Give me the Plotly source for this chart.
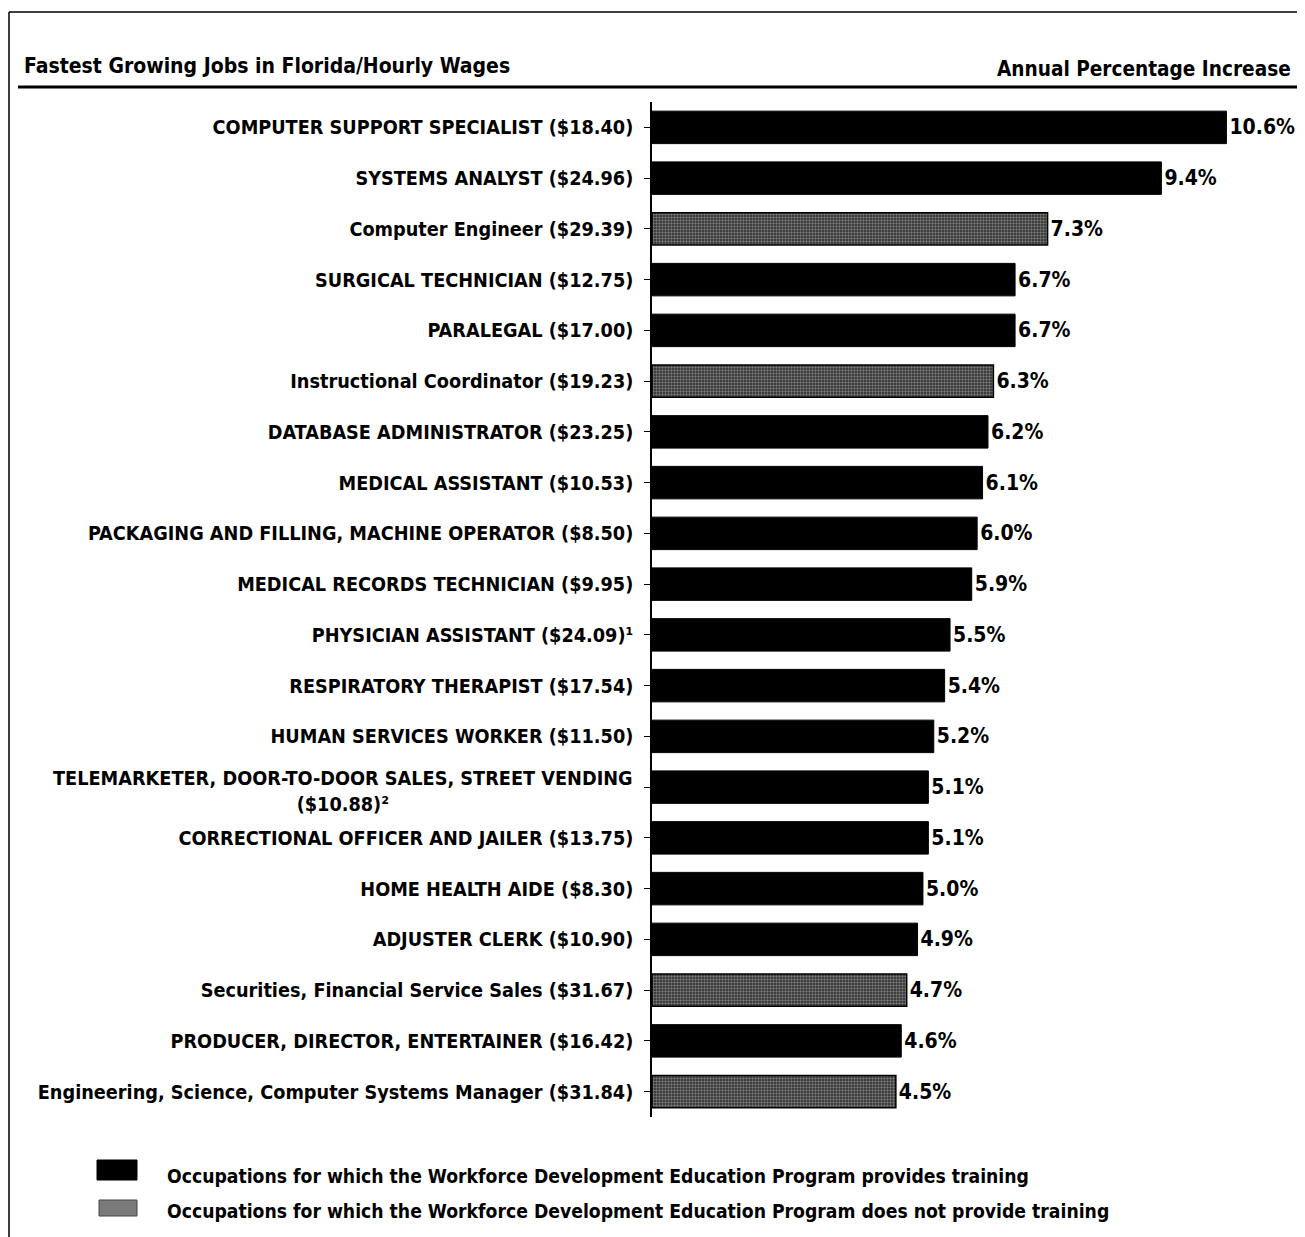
import plotly.graph_objects as go

occupations = [
    "COMPUTER SUPPORT SPECIALIST ($18.40)",
    "SYSTEMS ANALYST ($24.96)",
    "Computer Engineer ($29.39)",
    "SURGICAL TECHNICIAN ($12.75)",
    "PARALEGAL ($17.00)",
    "Instructional Coordinator ($19.23)",
    "DATABASE ADMINISTRATOR ($23.25)",
    "MEDICAL ASSISTANT ($10.53)",
    "PACKAGING AND FILLING, MACHINE OPERATOR ($8.50)",
    "MEDICAL RECORDS TECHNICIAN ($9.95)",
    "PHYSICIAN ASSISTANT ($24.09)¹",
    "RESPIRATORY THERAPIST ($17.54)",
    "HUMAN SERVICES WORKER ($11.50)",
    "TELEMARKETER, DOOR-TO-DOOR SALES, STREET VENDING<br>($10.88)²",
    "CORRECTIONAL OFFICER AND JAILER ($13.75)",
    "HOME HEALTH AIDE ($8.30)",
    "ADJUSTER CLERK ($10.90)",
    "Securities, Financial Service Sales ($31.67)",
    "PRODUCER, DIRECTOR, ENTERTAINER ($16.42)",
    "Engineering, Science, Computer Systems Manager ($31.84)",
]
increase = [10.6, 9.4, 7.3, 6.7, 6.7, 6.3, 6.2, 6.1, 6.0, 5.9,
            5.5, 5.4, 5.2, 5.1, 5.1, 5.0, 4.9, 4.7, 4.6, 4.5]
trained = [True, True, False, True, True, False, True, True, True, True,
           True, True, True, True, True, True, True, False, True, False]
value_labels = [f"<b>{v:.1f}%</b>" for v in increase]

title_text = "Fastest Growing Jobs in Florida/Hourly Wages"
right_title = "Annual Percentage Increase"
legend_texts = [
    "Occupations for which the Workforce Development Education Program provides training",
    "Occupations for which the Workforce Development Education Program does not provide training",
]

FONT = "DejaVu Sans Condensed, Liberation Sans Narrow, Arial Narrow, sans-serif"
ids = list(range(len(occupations)))

# page offset (browser body margin) compensation
OFF = 8
W, H = 1305 - OFF, 1237 - OFF
L, T = 652 - OFF, 102 - OFF
PLOT_BOTTOM = 1117 - OFF
B = H - PLOT_BOTTOM
pw, ph = W - L, H - T - B


def px(xw):
    return (xw - OFF - L) / pw


def py(yw):
    return (H - B - (yw - OFF)) / ph


fig = go.Figure()

tr_idx = [i for i in ids if trained[i]]
nt_idx = [i for i in ids if not trained[i]]

fig.add_trace(go.Bar(
    y=[ids[i] for i in tr_idx], x=[increase[i] for i in tr_idx], orientation="h",
    marker=dict(color="black", line=dict(color="black", width=1)),
    width=0.64, text=[value_labels[i] for i in tr_idx], textposition="outside",
    textfont=dict(family=FONT, size=21, color="black"), cliponaxis=False,
    showlegend=False, hoverinfo="skip",
))
fig.add_trace(go.Bar(
    y=[ids[i] for i in nt_idx], x=[increase[i] for i in nt_idx], orientation="h",
    marker=dict(color="#2a2a2a", line=dict(color="black", width=1.5),
                pattern=dict(shape=".", fgcolor="#c8c8c8", bgcolor="#2a2a2a",
                             size=3, solidity=0.5)),
    width=0.64, text=[value_labels[i] for i in nt_idx], textposition="outside",
    textfont=dict(family=FONT, size=21, color="black"), cliponaxis=False,
    showlegend=False, hoverinfo="skip",
))

tick_text = ["" if "<br>" in o else f"<b>{o}</b>" for o in occupations]

fig.update_layout(
    width=W, height=H,
    margin=dict(l=L, r=0, t=T, b=B),
    paper_bgcolor="white", plot_bgcolor="white",
    barmode="overlay",
    font=dict(family=FONT, color="black"),
    xaxis=dict(range=[0, 12.05], visible=False, fixedrange=True),
    yaxis=dict(
        range=[len(ids) - 0.5, -0.5], tickmode="array", tickvals=ids, ticktext=tick_text,
        showline=True, linecolor="black", linewidth=1.5,
        ticks="outside", ticklen=6, tickwidth=1.2, tickcolor="black",
        tickson="boundaries", ticklabelstandoff=7,
        tickfont=dict(family=FONT, size=19.7, color="black"),
        showgrid=False, zeroline=False,
    ),
)

# two-line label, centered lines
for i, o in enumerate(occupations):
    if "<br>" in o:
        fig.add_annotation(xref="paper", yref="y", x=0, y=i, xshift=-17, yshift=-4,
                           text=f"<b>{o}</b>", showarrow=False, xanchor="right", yanchor="middle",
                           align="center", font=dict(family=FONT, size=19.7, color="black"))

# titles
fig.add_annotation(xref="paper", yref="paper", x=px(22), y=py(66), text=f"<b>{title_text}</b>",
                   showarrow=False, xanchor="left", yanchor="middle",
                   font=dict(family=FONT, size=21, color="black"))
fig.add_annotation(xref="paper", yref="paper", x=px(1293), y=py(69), text=f"<b>{right_title}</b>",
                   showarrow=False, xanchor="right", yanchor="middle",
                   font=dict(family=FONT, size=20.6, color="black"))

# frame lines and title underline
fig.add_shape(type="line", xref="paper", yref="paper", x0=px(9), x1=px(1305), y0=py(12), y1=py(12),
              line=dict(color="black", width=1.5))
fig.add_shape(type="line", xref="paper", yref="paper", x0=px(9), x1=px(9), y0=py(12), y1=py(1237),
              line=dict(color="black", width=1.5))
fig.add_shape(type="line", xref="paper", yref="paper", x0=px(18), x1=px(1305), y0=py(87), y1=py(87),
              line=dict(color="black", width=3))

# legend swatches and text
fig.add_shape(type="rect", xref="paper", yref="paper", x0=px(97), x1=px(137), y0=py(1160), y1=py(1180),
              fillcolor="black", line=dict(color="black", width=1))
fig.add_shape(type="rect", xref="paper", yref="paper", x0=px(99), x1=px(137), y0=py(1200), y1=py(1216),
              fillcolor="#7a7a7a", line=dict(color="#444", width=1))
fig.add_annotation(xref="paper", yref="paper", x=px(165), y=py(1176), text=f"<b>{legend_texts[0]}</b>",
                   showarrow=False, xanchor="left", yanchor="middle",
                   font=dict(family=FONT, size=19.2, color="black"))
fig.add_annotation(xref="paper", yref="paper", x=px(165), y=py(1211), text=f"<b>{legend_texts[1]}</b>",
                   showarrow=False, xanchor="left", yanchor="middle",
                   font=dict(family=FONT, size=19.2, color="black"))

fig.write_html("out.html")
